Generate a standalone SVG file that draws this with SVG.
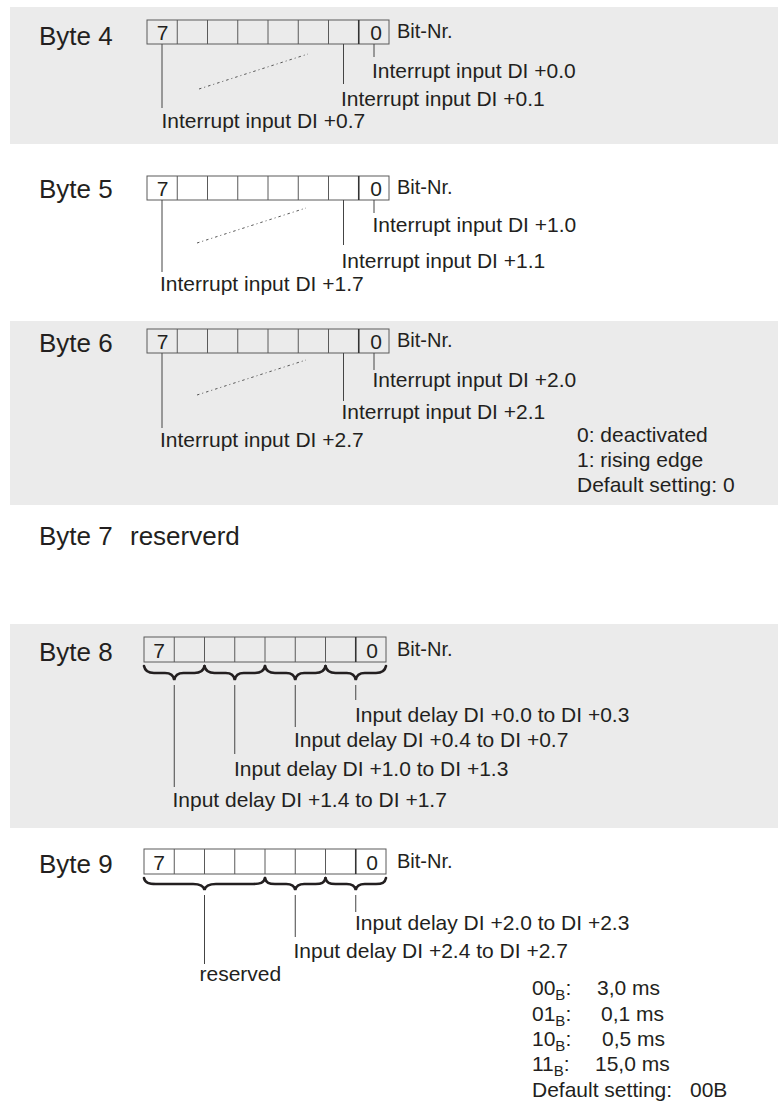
<svg xmlns="http://www.w3.org/2000/svg" width="778" height="1104" viewBox="0 0 778 1104">
<style>
text{font-family:"Liberation Sans",Arial,Helvetica,sans-serif;fill:#231f20;font-size:21px}
.byte{font-size:26px}
.dig{font-size:21px;text-anchor:middle}
.bit{font-size:20px}
.sub{font-size:15px}
.panel{fill:#ebebeb}
.reg{fill:none;stroke:#5a5a5a;stroke-width:1}
.sep{stroke:#5a5a5a;stroke-width:1}
.sep0{stroke:#333;stroke-width:1.6}
.ln{stroke:#444;stroke-width:1;fill:none}
.dot{stroke:#555;stroke-width:1;stroke-dasharray:2.5 3 1 3;fill:none}
.brace{stroke:#231f20;stroke-width:2.6;fill:none;stroke-linecap:round;stroke-linejoin:miter}
</style>
<defs>
<g id="cells147">
<rect class="reg" x="147" y="0" width="242" height="24"/>
<path class="sep" d="M177.25 0V24M207.5 0V24M237.75 0V24M268 0V24M298.25 0V24M328.5 0V24"/>
<path class="sep0" d="M358.75 0V24"/>
<text class="dig" x="162.5" y="20">7</text>
<text class="dig" x="376" y="20">0</text>
<text class="bit" x="397" y="18">Bit-Nr.</text>
</g>
<g id="cells144">
<rect class="reg" x="144" y="0" width="242" height="25"/>
<path class="sep" d="M174.25 0V25M204.5 0V25M234.75 0V25M265 0V25M295.25 0V25M325.5 0V25"/>
<path class="sep0" d="M355.75 0V25"/>
<text class="dig" x="159" y="21">7</text>
<text class="dig" x="372" y="21">0</text>
<text class="bit" x="397" y="19">Bit-Nr.</text>
</g>
</defs>

<g id="panels">
<rect class="panel" x="10" y="7" width="768" height="137"/>
<rect class="panel" x="10" y="321" width="768" height="184"/>
<rect class="panel" x="10" y="624" width="768" height="204"/>
</g>

<g id="byte4">
<text class="byte" x="39" y="45">Byte 4</text>
<use href="#cells147" y="20"/>
</g>
<g id="byte4-labels">
<text x="372" y="78">Interrupt input DI +0.0</text>
<text x="341" y="105.5">Interrupt input DI +0.1</text>
<text x="161.5" y="128">Interrupt input DI +0.7</text>
</g>

<g id="byte5">
<text class="byte" x="39" y="198">Byte 5</text>
<use href="#cells147" y="176"/>
</g>
<g id="byte5-labels">
<text x="372.5" y="231.5">Interrupt input DI +1.0</text>
<text x="341.5" y="268">Interrupt input DI +1.1</text>
<text x="160" y="290.5">Interrupt input DI +1.7</text>
</g>

<g id="byte6">
<text class="byte" x="39" y="352">Byte 6</text>
<use href="#cells147" y="329"/>
</g>
<g id="byte6-labels">
<text x="372.5" y="387">Interrupt input DI +2.0</text>
<text x="341.5" y="419">Interrupt input DI +2.1</text>
<text x="160" y="447">Interrupt input DI +2.7</text>
</g>
<g id="byte6-legend">
<text x="577" y="442">0: deactivated</text>
<text x="577" y="467">1: rising edge</text>
<text x="577" y="492">Default setting: 0</text>
</g>

<g id="byte7">
<text class="byte" x="39" y="545">Byte 7</text>
<text class="byte" x="130" y="545">reserverd</text>
</g>

<g id="byte8">
<text class="byte" x="39" y="661">Byte 8</text>
<use href="#cells144" y="637"/>
</g>
<g id="byte8-labels">
<text x="355" y="722">Input delay DI +0.0 to DI +0.3</text>
<text x="294" y="747">Input delay DI +0.4 to DI +0.7</text>
<text x="234" y="776">Input delay DI +1.0 to DI +1.3</text>
<text x="172.5" y="807">Input delay DI +1.4 to DI +1.7</text>
</g>

<g id="byte9">
<text class="byte" x="39" y="873">Byte 9</text>
<use href="#cells144" y="849"/>
</g>
<g id="byte9-labels">
<text x="355" y="930">Input delay DI +2.0 to DI +2.3</text>
<text x="293.5" y="958">Input delay DI +2.4 to DI +2.7</text>
<text x="199.5" y="981">reserved</text>
</g>
<g id="byte9-legend">
<text x="532" y="995">00<tspan class="sub" dy="5">B</tspan><tspan dy="-5">:</tspan></text>
<text x="597" y="995">3,0 ms</text>
<text x="532" y="1020.5">01<tspan class="sub" dy="5">B</tspan><tspan dy="-5">:</tspan></text>
<text x="601" y="1020.5">0,1 ms</text>
<text x="532" y="1046">10<tspan class="sub" dy="5">B</tspan><tspan dy="-5">:</tspan></text>
<text x="602" y="1046">0,5 ms</text>
<text x="532" y="1071">11<tspan class="sub" dy="5">B</tspan><tspan dy="-5">:</tspan></text>
<text x="595" y="1071">15,0 ms</text>
<text x="532" y="1096.5">Default setting:</text>
<text x="690" y="1096.5">00B</text>
</g>

<g id="connectors">
<path class="ln" d="M374 44V57M343.5 44V84M162 44V108"/>
<path class="dot" d="M199 89L308 54"/>
<path class="ln" d="M374 200V213M343.5 200V245M162 200V272"/>
<path class="dot" d="M197 243L306 208"/>
<path class="ln" d="M374 353V370M343.5 353V401M162 353V428"/>
<path class="dot" d="M197 395L306 360"/>
<path class="brace" d="M144 666C145 671 148 673 154 673L165 673C170 673 173.5 675 174.25 680C175 675 178.5 673 183.5 673L194.5 673C200.5 673 203.5 671 204.5 666"/>
<path class="brace" d="M204.5 666C205.5 671 208.5 673 214.5 673L225.75 673C230.75 673 234 675 234.75 680C235.5 675 238.75 673 243.75 673L255 673C261 673 264 671 265 666"/>
<path class="brace" d="M265 666C266 671 269 673 275 673L286.25 673C291.25 673 294.5 675 295.25 680C296 675 299.25 673 304.25 673L315.5 673C321.5 673 324.5 671 325.5 666"/>
<path class="brace" d="M325.5 666C326.5 671 329.5 673 335.5 673L346.75 673C351.75 673 355 675 355.75 680C356.5 675 359.75 673 364.75 673L376 673C382 673 385 671 386 666"/>
<path class="ln" d="M355.75 685V700M295.25 685V727M234.75 685V754M174.25 685V787"/>
<path class="brace" d="M144 878C145 883 149 884 156 884L193 884C199 884 203.7 886 204.5 890C205.3 886 210 884 216 884L253 884C260 884 264 883 265 878"/>
<path class="brace" d="M265 878C266 883 269 884 275 884L286.25 884C291.25 884 294.5 886 295.25 890C296 886 299.25 884 304.25 884L315.5 884C321.5 884 324.5 883 325.5 878"/>
<path class="brace" d="M325.5 878C326.5 883 329.5 884 335.5 884L346.75 884C351.75 884 355 886 355.75 890C356.5 886 359.75 884 364.75 884L376 884C382 884 385 883 386 878"/>
<path class="ln" d="M355.75 895V912M295.25 895V937M204.5 895V964"/>
</g>
</svg>
